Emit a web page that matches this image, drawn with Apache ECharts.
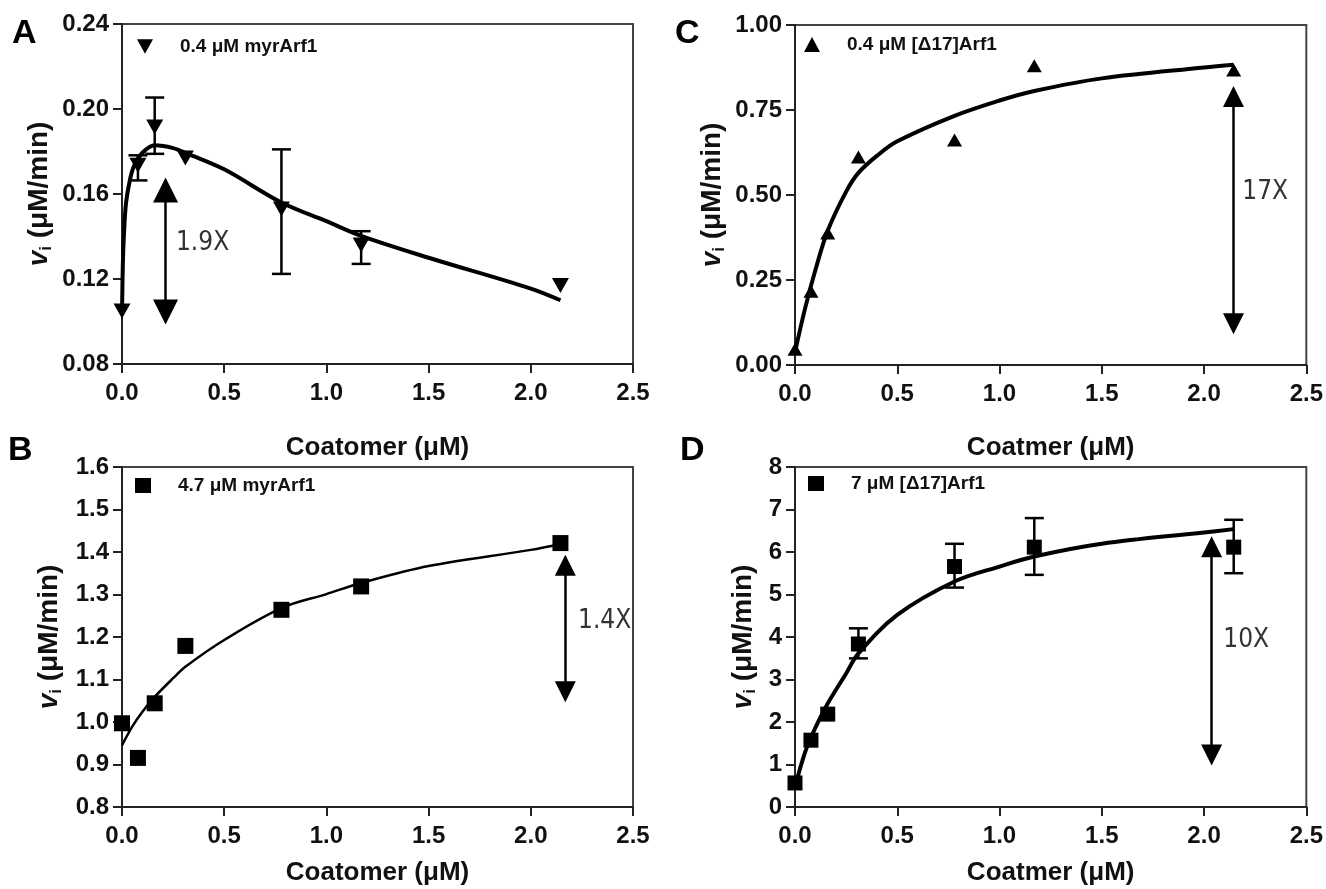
<!DOCTYPE html>
<html><head><meta charset="utf-8">
<script src="https://cdn.jsdelivr.net/npm/echarts@6/dist/echarts.min.js"></script>
<style>html,body{margin:0;padding:0;background:#fff}#c{width:1326px;height:889px}</style>
</head><body><div id="c"></div>
<script>
// ---------- data ----------
const coatomer = [0, 0.078, 0.16, 0.31, 0.78, 1.17, 2.145];

// Panel A: 0.4 uM myrArf1
const aY       = [0.105, 0.1735, 0.1915, 0.177, 0.153, 0.136, 0.117];
const aErrLow  = [null, 0.1664, 0.1789, null, 0.1224, 0.1271, null];
const aErrHigh = [null, 0.1782, 0.2054, null, 0.181, 0.1425, null];
const aCurveX  = [0, 0.004, 0.01, 0.02, 0.04, 0.06, 0.1, 0.16, 0.25, 0.32, 0.5, 0.78, 1.0, 1.17, 1.5, 2.0, 2.145];
const aCurveY  = [0.103, 0.1265, 0.142, 0.156, 0.1672, 0.1735, 0.1794, 0.1829, 0.1816, 0.179, 0.1716, 0.156, 0.1472, 0.1403, 0.130, 0.1155, 0.110];
const aArrow   = [0.213, 0.1619, 0.1045];
const aLabelPos = [0.264, 0.137];

// Panel B: 4.7 uM myrArf1
const bY       = [0.997, 0.9155, 1.044, 1.179, 1.264, 1.319, 1.421];
const bCurveX  = [0, 0.05, 0.1, 0.16, 0.25, 0.31, 0.5, 0.78, 1.0, 1.17, 1.5, 2.0, 2.145];
const bCurveY  = [0.945, 0.989, 1.024, 1.059, 1.103, 1.130, 1.193, 1.268, 1.301, 1.327, 1.367, 1.405, 1.419];
const bArrow   = [2.169, 1.369, 1.071];
const bLabelPos = [2.231, 1.236];

// Panel C: 0.4 uM [Δ17]Arf1
const cY       = [0.046, 0.217, 0.388, 0.612, 0.662, 0.880, 0.868];
const cCurveX  = [0, 0.05, 0.1, 0.16, 0.25, 0.31, 0.4, 0.5, 0.78, 1.0, 1.17, 1.5, 2.0, 2.145];
const cCurveY  = [0.038, 0.168, 0.28, 0.395, 0.51, 0.565, 0.615, 0.658, 0.733, 0.778, 0.806, 0.843, 0.875, 0.883];
const cArrow   = [2.144, 0.790, 0.121];
const cLabelPos = [2.187, 0.509];

// Panel D: 7 uM [Δ17]Arf1
const dY       = [0.566, 1.572, 2.185, 3.835, 5.658, 6.114, 6.114];
const dErrLow  = [null, null, null, 3.497, 5.163, 5.462, 5.501];
const dErrHigh = [null, null, null, 4.204, 6.193, 6.798, 6.758];
const dCurveX  = [0, 0.05, 0.1, 0.16, 0.25, 0.31, 0.5, 0.78, 1.0, 1.17, 1.5, 2.0, 2.145];
const dCurveY  = [0.471, 1.297, 1.87, 2.436, 3.143, 3.615, 4.519, 5.305, 5.658, 5.894, 6.193, 6.46, 6.538];
const dArrow   = [2.037, 6.125, 1.224];
const dLabelPos = [2.094, 3.93];

const xTicks = [0, 0.5, 1.0, 1.5, 2.0, 2.5];
const seriesNames = ['0.4 μM myrArf1', '4.7 μM myrArf1', '0.4 μM [Δ17]Arf1', '7 μM [Δ17]Arf1'];
const foldLabels = ['1.9X', '1.4X', '17X', '10X'];
const xNames = ['Coatomer (μM)', 'Coatomer (μM)', 'Coatmer (μM)', 'Coatmer (μM)'];
const panelLetters = ['A', 'B', 'C', 'D'];

// ---------- helpers ----------
const FF = '"Liberation Sans", Arial, sans-serif';
const NARROW = '"Liberation Sans Narrow", "Arial Narrow", "DejaVu Sans Condensed", sans-serif';
const zip = (xs, ys) => xs.map((x, i) => [x, ys[i]]);
const errData = (xs, lo, hi) => xs.map((x, i) => lo[i] == null ? null : [x, lo[i], hi[i]]).filter(d => d);

function errRender(params, api) {
  const x = api.value(0), lo = api.value(1), hi = api.value(2);
  const pLo = api.coord([x, lo]), pHi = api.coord([x, hi]);
  const hw = 9.5;
  const style = { stroke: '#000', lineWidth: 2.5, fill: null };
  return { type: 'group', children: [
    { type: 'line', shape: { x1: pLo[0], y1: pLo[1], x2: pHi[0], y2: pHi[1] }, style },
    { type: 'line', shape: { x1: pLo[0] - hw, y1: pLo[1], x2: pLo[0] + hw, y2: pLo[1] }, style },
    { type: 'line', shape: { x1: pHi[0] - hw, y1: pHi[1], x2: pHi[0] + hw, y2: pHi[1] }, style }
  ]};
}

const grids = [
  { left: 122, top: 24, width: 511, height: 340 },
  { left: 122, top: 467, width: 511, height: 340 },
  { left: 795, top: 25, width: 512, height: 340 },
  { left: 795, top: 467, width: 512, height: 340 }
].map(g => Object.assign(g, { show: true, borderColor: '#444', borderWidth: 2, containLabel: false }));

const xNameGaps = [71, 53, 70, 53];
const xAxes = grids.map((g, i) => ({
  gridIndex: i, type: 'value', min: xTicks[0], max: xTicks[xTicks.length - 1], interval: 0.5,
  name: xNames[i], nameLocation: 'middle', nameGap: xNameGaps[i],
  nameTextStyle: { fontFamily: FF, fontWeight: 'bold', fontSize: 26, color: '#111' },
  axisLine: { show: true, onZero: false, lineStyle: { color: '#222', width: 2 } },
  axisTick: { show: true, length: 9, lineStyle: { color: '#222', width: 2 } },
  axisLabel: { fontFamily: FF, fontWeight: 'bold', fontSize: 24, color: '#111', margin: 17, formatter: v => v.toFixed(1) },
  splitLine: { show: false }
}));

const yCfg = [
  { min: 0.08, max: 0.24, interval: 0.04, dec: 2, gap: 67 },
  { min: 0.8, max: 1.6, interval: 0.1, dec: 1, gap: 57 },
  { min: 0, max: 1.0, interval: 0.25, dec: 2, gap: 67 },
  { min: 0, max: 8, interval: 1, dec: 0, gap: 36 }
];
const yAxes = yCfg.map((c, i) => ({
  gridIndex: i, type: 'value', min: c.min, max: c.max, interval: c.interval,
  name: '{v|v}{s|i} (μM/min)', nameLocation: 'middle', nameGap: c.gap, nameRotate: 90,
  nameTextStyle: { fontFamily: FF, fontWeight: 'bold', fontSize: 28, color: '#111',
    rich: {
      v: { fontFamily: FF, fontWeight: 'bold', fontStyle: 'italic', fontSize: 28, color: '#111' },
      s: { fontFamily: FF, fontWeight: 'bold', fontSize: 17, color: '#111', padding: [15, 0, 0, 0] }
    } },
  axisLine: { show: true, onZero: false, lineStyle: { color: '#222', width: 2 } },
  axisTick: { show: true, length: 9, lineStyle: { color: '#222', width: 2 } },
  axisLabel: { fontFamily: FF, fontWeight: 'bold', fontSize: 24, color: '#111', margin: 13, formatter: v => v.toFixed(c.dec) },
  splitLine: { show: false }
}));

const downTri = 'path://M0,0 L20,0 L10,18 Z';
const markers = [
  { sym: downTri, size: [17, 15] },
  { sym: 'rect', size: 16 },
  { sym: 'triangle', size: [15, 13] },
  { sym: 'rect', size: 15 }
];
const ys = [aY, bY, cY, dY];
const curvesX = [aCurveX, bCurveX, cCurveX, dCurveX];
const curvesY = [aCurveY, bCurveY, cCurveY, dCurveY];
const curveW = [4, 2.5, 4, 4];
const arrows = [aArrow, bArrow, cArrow, dArrow];
const arrowSize = [25, 21, 21, 21];
const labelPos = [aLabelPos, bLabelPos, cLabelPos, dLabelPos];

const series = [];
for (let i = 0; i < 4; i++) {
  series.push({
    name: seriesNames[i], type: 'scatter', xAxisIndex: i, yAxisIndex: i,
    symbol: markers[i].sym, symbolSize: markers[i].size,
    itemStyle: { color: '#000', opacity: 1 }, z: 3,
    data: zip(coatomer, ys[i])
  });
  series.push({
    name: 'fit' + i, type: 'line', xAxisIndex: i, yAxisIndex: i,
    showSymbol: false, symbol: 'none', smooth: 0.35,
    lineStyle: { color: '#000', width: curveW[i] }, z: 4,
    data: zip(curvesX[i], curvesY[i]),
    markLine: {
      silent: true, symbol: ['triangle', 'triangle'], symbolSize: arrowSize[i],
      lineStyle: { color: '#000', width: 2.5, type: 'solid' },
      label: { show: false },
      data: [[{ coord: [arrows[i][0], arrows[i][1]] }, { coord: [arrows[i][0], arrows[i][2]] }]]
    },
    markPoint: {
      silent: true, symbol: 'circle', symbolSize: 1, itemStyle: { color: 'rgba(0,0,0,0)' },
      label: { show: true, position: 'inside', align: 'left', verticalAlign: 'middle',
        fontFamily: NARROW, fontSize: 26, color: '#333', formatter: foldLabels[i] },
      data: [{ coord: labelPos[i] }]
    }
  });
}
series.push({
  name: 'errA', type: 'custom', xAxisIndex: 0, yAxisIndex: 0, renderItem: errRender,
  encode: { x: 0, y: [1, 2] }, z: 5, data: errData(coatomer, aErrLow, aErrHigh)
});
series.push({
  name: 'errD', type: 'custom', xAxisIndex: 3, yAxisIndex: 3, renderItem: errRender,
  encode: { x: 0, y: [1, 2] }, z: 5, data: errData(coatomer, dErrLow, dErrHigh)
});

const legendPos = [[132, 32], [130, 471], [799, 30], [803, 469]];
const legends = seriesNames.map((n, i) => ({
  data: [n], left: legendPos[i][0], top: legendPos[i][1], orient: 'horizontal',
  itemWidth: 16, itemHeight: 15, selectedMode: false,
  textStyle: { fontFamily: FF, fontWeight: 'bold', fontSize: 19, color: '#111', padding: [0, 0, 0, 22] }
}));

const letterPos = [[12, 34], [8, 451], [675, 34], [680, 451]];
const graphics = panelLetters.map((t, i) => ({
  type: 'text', left: letterPos[i][0], top: letterPos[i][1] - 17,
  style: { text: t, fontFamily: FF, fontWeight: 'bold', fontSize: 34, fill: '#000' }
}));

const chart = echarts.init(document.getElementById('c'), null, { renderer: 'canvas' });
chart.setOption({
  animation: false, backgroundColor: '#fff',
  grid: grids, xAxis: xAxes, yAxis: yAxes, legend: legends, series, graphic: graphics
});
</script></body></html>
